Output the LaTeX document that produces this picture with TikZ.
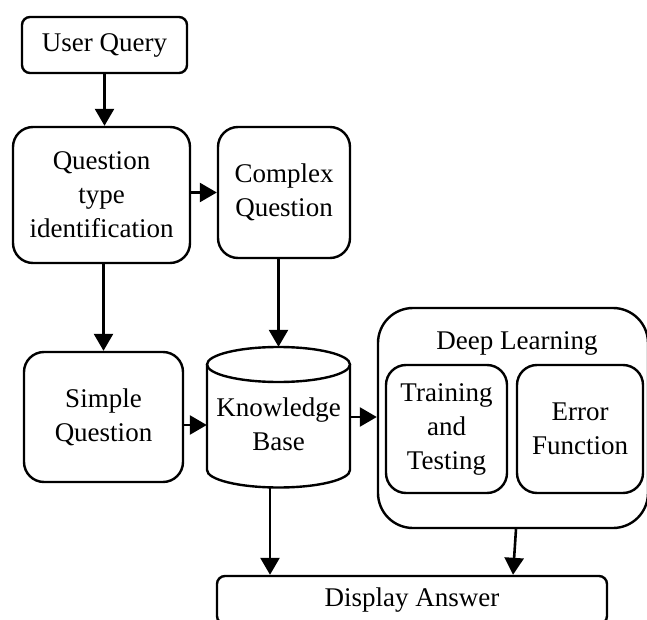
\documentclass[tikz,border=0pt]{standalone}
\usepackage{fontspec}
\setmainfont{Liberation Serif}
\usetikzlibrary{arrows.meta}
\begin{document}
\begin{tikzpicture}[x=1pt,y=-1pt,
  every node/.style={font=\rmfamily\fontsize{27}{34}\selectfont, align=center, inner sep=0pt},
  box/.style={draw, line width=2.4pt, rounded corners=20pt},
  smallbox/.style={draw, line width=2.4pt, rounded corners=8pt},
  arr/.style={line width=2.6pt, -{Triangle[length=17pt,width=19pt]}},
  shp/.style={line width=2.4pt}
]
\useasboundingbox (0,0) rectangle (647,620);

\node[smallbox, minimum width=165pt, minimum height=56pt] (uq) at (104.5,45) {User Query};
\node[box, minimum width=177pt, minimum height=136pt] (qti) at (101.5,195) {Question\\type\\identification};
\node[box, minimum width=132pt, minimum height=131pt] (cq) at (284,192.5) {Complex\\Question};
\node[box, minimum width=159pt, minimum height=130pt] (sq) at (103.5,417) {Simple\\Question};

% knowledge base cylinder
\node[minimum width=143pt, minimum height=140pt] (kb) at (278.5,417) {};
\draw[shp] (207,364.5) -- (207,470) arc[start angle=180, end angle=0, x radius=71.5, y radius=17.5] -- (350,364.5);
\draw[shp] (278.5,364.5) ellipse [x radius=71.5, y radius=17.5];
\node (kbt) at (278.5,424) {Knowledge\\Base};

% deep learning
\node[draw, line width=2.4pt, rounded corners=35pt, minimum width=270pt, minimum height=220pt] (dl) at (513,418) {};
\node (dlt) at (517,343) {Deep Learning};
\node[box, minimum width=121pt, minimum height=128pt] (tt) at (446.5,429) {Training\\and\\Testing};
\node[box, minimum width=126pt, minimum height=128pt] (ef) at (580,429) {Error\\Function};

\node[smallbox, minimum width=390pt, minimum height=48pt] (da) at (412,600) {Display Answer};

\draw[arr] (uq.south) -- (uq.south |- qti.north);
\draw[arr] (cq.west -| qti.east) -- (cq.west);
\draw[arr] (qti.south -| sq.north) -- (sq.north);
\draw[arr] (kb.north |- cq.south) -- (kb.north);
\draw[arr] ([yshift=-8pt]sq.east) -- ([yshift=-8pt]sq.east -| kb.west);
\draw[arr] (kb.east) -- (kb.east -| dl.west);
\draw[arr] ([xshift=-8.5pt]kb.south) -- ([xshift=-8.5pt]kb.south |- da.north);
\draw[arr] ([xshift=3pt]dl.south) -- (dl.south |- da.north);
\end{tikzpicture}
\end{document}
